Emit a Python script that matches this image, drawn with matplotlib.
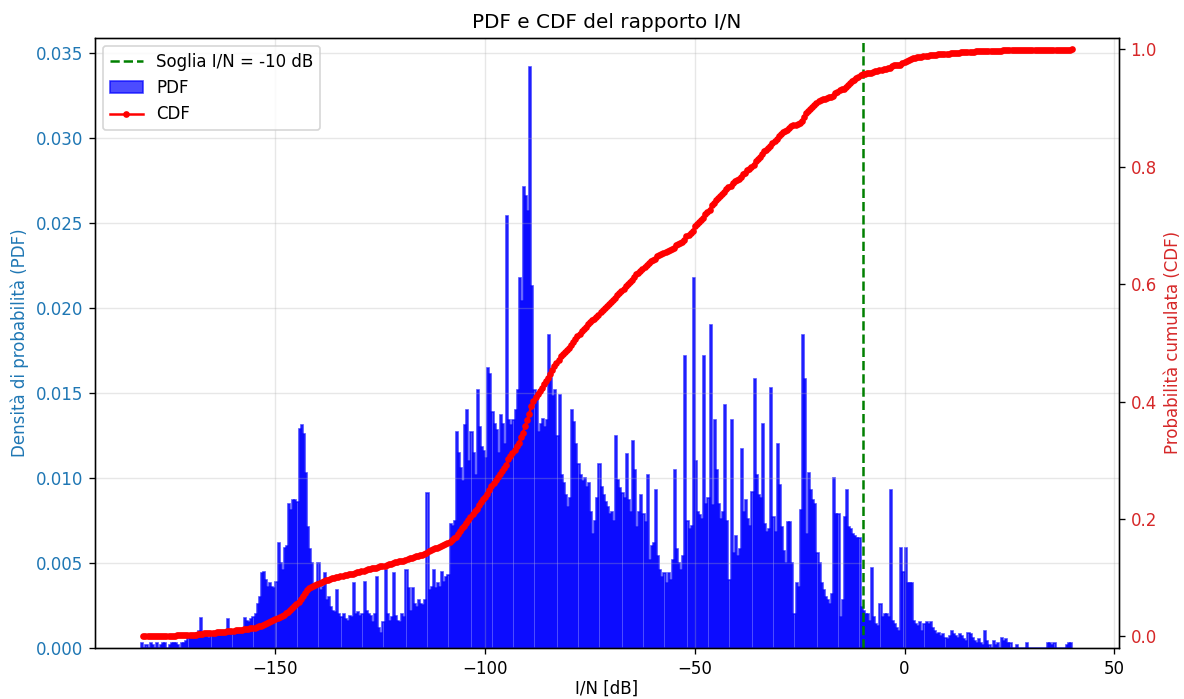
import numpy as np
import matplotlib.pyplot as plt

# I/N histogram: 0.5 dB bins starting at -182 dB, density values in units of 1e-3
bin_start = -182.0
bin_width = 0.5
pdf_milli = [
    # -182 .. -177
    0.3, 0, 0.2, 0, 0.3, 0.2, 0, 0.3, 0, 0.2,
    # -177 .. -172
    0.3, 0.3, 0, 0.2, 0.3, 0.3, 0.3, 0.2, 0, 0.3,
    # -172 .. -167
    0.3, 0.4, 0.6, 0.7, 0.8, 0.8, 0.9, 1.0, 1.75, 0.8,
    # -167 .. -162
    0.7, 0.8, 0.6, 0.9, 0.7, 0.8, 0.9, 0.7, 0.8, 1.0,
    # -162 .. -157
    0.8, 1.7, 0.9, 0.8, 0.9, 0.8, 1.0, 0.9, 1.1, 1.75,
    # -157 .. -152
    1.6, 1.5, 1.7, 1.8, 2.0, 2.6, 3.0, 4.4, 4.5, 4.0,
    # -152 .. -147
    3.6, 3.8, 3.6, 3.5, 3.9, 6.2, 5.0, 4.6, 5.9, 6.0,
    # -147 .. -142
    8.5, 8.1, 8.7, 8.7, 8.6, 12.9, 13.1, 12.6, 10.3, 7.1,
    # -142 .. -137
    5.8, 5.0, 3.6, 3.5, 5.0, 3.4, 3.6, 4.4, 2.8, 3.0,
    # -137 .. -132
    2.4, 2.2, 2.1, 3.4, 2.0, 1.8, 2.0, 1.7, 1.6, 1.9,
    # -132 .. -127
    1.8, 3.8, 2.0, 2.1, 1.9, 2.0, 3.9, 2.2, 2.0, 1.9,
    # -127 .. -122
    1.5, 2.0, 4.2, 1.2, 0.9, 1.5, 4.6, 2.0, 1.6, 1.8,
    # -122 .. -117
    4.4, 1.9, 1.6, 1.5, 2.0, 1.8, 4.6, 3.5, 2.2, 3.5,
    # -117 .. -112
    2.6, 2.4, 2.8, 2.6, 2.5, 2.8, 9.1, 3.4, 3.6, 4.6,
    # -112 .. -107
    3.5, 3.8, 3.6, 4.5, 3.9, 4.2, 4.3, 7.3, 7.2, 7.5,
    # -107 .. -102
    12.7, 11.5, 10.6, 9.8, 13.1, 14.0, 11.0, 12.7, 11.5, 10.2,
    # -102 .. -97
    15.2, 13.0, 11.8, 11.6, 11.2, 16.5, 16.1, 13.9, 13.2, 12.8,
    # -97 .. -92
    11.5, 13.7, 13.2, 12.0, 25.4, 13.4, 13.1, 13.4, 14.0, 15.2,
    # -92 .. -87
    21.8, 20.4, 27.1, 26.6, 25.7, 34.2, 21.3, 15.2, 14.8, 12.7,
    # -87 .. -82
    13.2, 13.5, 13.0, 13.4, 18.4, 15.9, 14.8, 15.2, 12.5, 14.9,
    # -82 .. -77
    10.2, 9.7, 9.0, 8.3, 8.8, 14.0, 13.3, 12.0, 10.8, 10.2,
    # -77 .. -72
    9.8, 10.0, 9.5, 9.7, 8.0, 6.7, 7.5, 8.8, 10.8, 9.5,
    # -72 .. -67
    9.0, 8.6, 8.3, 7.9, 8.0, 7.5, 12.5, 9.9, 9.4, 9.1,
    # -67 .. -62
    8.8, 11.4, 8.7, 8.0, 12.2, 10.5, 7.1, 8.0, 9.0, 7.9,
    # -62 .. -57
    7.4, 10.2, 5.2, 6.0, 6.2, 9.3, 5.4, 4.6, 4.2, 4.4,
    # -57 .. -52
    3.8, 4.4, 4.0, 5.2, 10.5, 5.8, 5.0, 4.6, 5.4, 17.2,
    # -52 .. -47
    7.5, 7.0, 7.2, 21.8, 11.0, 8.0, 7.8, 7.6, 17.2, 8.5,
    # -47 .. -42
    8.8, 19.0, 8.4, 13.4, 10.5, 8.5, 7.6, 8.0, 14.3, 7.5,
    # -42 .. -37
    4.0, 13.4, 5.6, 6.6, 5.4, 5.8, 11.7, 8.0, 8.7, 7.6,
    # -37 .. -32
    7.2, 9.2, 15.8, 10.2, 9.0, 8.8, 13.2, 7.3, 6.8, 7.0,
    # -32 .. -27
    15.3, 7.7, 6.8, 12.0, 9.6, 7.1, 5.7, 5.0, 7.4, 7.4,
    # -27 .. -22
    5.0, 2.0, 3.8, 3.6, 8.1, 18.4, 15.8, 6.7, 10.3, 9.3,
    # -22 .. -17
    8.7, 8.5, 5.6, 5.0, 3.8, 3.4, 3.0, 2.8, 2.6, 3.2,
    # -17 .. -12
    10.0, 7.9, 7.9, 1.8, 2.8, 7.7, 9.3, 7.1, 7.0, 6.7,
    # -12 .. -7
    6.6, 6.5, 6.5, 2.4, 2.2, 2.0, 2.0, 1.6, 4.7, 1.8,
    # -7 .. -2
    1.4, 1.3, 2.6, 1.8, 2.0, 2.0, 1.8, 9.3, 1.6, 1.4,
    # -2 .. 3
    1.2, 1.0, 5.9, 4.5, 5.9, 3.8, 3.8, 3.8, 1.6, 1.4,
    # 3 .. 8
    1.3, 1.5, 1.0, 1.4, 1.5, 1.4, 1.5, 1.2, 1.0, 0.8,
    # 8 .. 13
    0.9, 0.7, 0.8, 0.6, 0.5, 0.7, 1.0, 0.8, 0.7, 0.6,
    # 13 .. 18
    0.8, 0.7, 0.5, 0.4, 0.9, 0.8, 0.6, 0.4, 0.3, 0.5,
    # 18 .. 23
    0.3, 0.2, 1.0, 0.4, 0.2, 0, 0.4, 0.2, 0.3, 0,
    # 23 .. 28
    0.6, 0.4, 0.5, 0.3, 0.3, 0, 0, 0.2, 0, 0,
    # 28 .. 33
    0, 0, 0.3, 0, 0, 0, 0, 0, 0, 0,
    # 33 .. 38
    0, 0, 0.3, 0.3, 0.2, 0.3, 0, 0, 0, 0,
    # 38 .. 40
    0, 0.2, 0.3, 0.3,
]
threshold_db = -10

pdf = np.array(pdf_milli) * 1e-3
edges = bin_start + bin_width * np.arange(len(pdf) + 1)
centers = edges[:-1] + bin_width / 2
cdf = np.cumsum(pdf) / pdf.sum()

fig, ax1 = plt.subplots(figsize=(1184 / 120, 699 / 120), dpi=120)
fig.subplots_adjust(left=0.080, right=0.945, bottom=0.073, top=0.946)

thr_line = ax1.axvline(threshold_db, color='green', linestyle='--', linewidth=1.5)
_, _, bars = ax1.hist(centers, bins=edges, weights=pdf, color='blue', alpha=0.7,
                      edgecolor='blue', linewidth=1.0)
ax1.set_xlabel('I/N [dB]', labelpad=1)
ax1.set_ylabel('Densità di probabilità (PDF)', color='tab:blue')
ax1.tick_params(axis='y', labelcolor='tab:blue')
ax1.grid(True, alpha=0.3)
ax1.set_title('PDF e CDF del rapporto I/N')

ax2 = ax1.twinx()
cdf_line, = ax2.plot(edges[1:], cdf, color='red', marker='.', markersize=6, linewidth=1.5)
ax2.set_ylabel('Probabilità cumulata (CDF)', color='tab:red')
ax2.tick_params(axis='y', labelcolor='tab:red')
ax2.set_ylim(-0.02, 1.02)

ax1.legend([thr_line, bars, cdf_line],
           ['Soglia I/N = -10 dB', 'PDF', 'CDF'], loc='upper left')

fig.savefig('out.png', dpi=120)
